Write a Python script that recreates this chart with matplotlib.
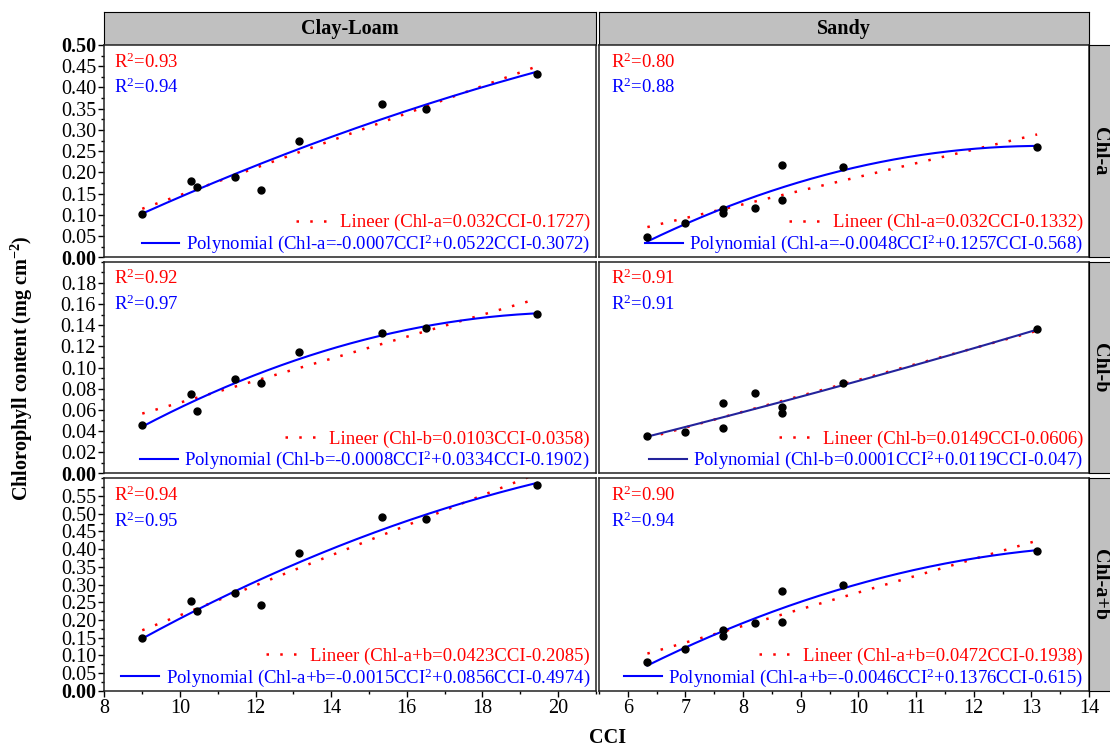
import matplotlib
matplotlib.use("Agg")
import matplotlib.pyplot as plt
import numpy as np
from matplotlib.lines import Line2D
from matplotlib.ticker import MultipleLocator

plt.rcParams['font.family'] = 'Liberation Serif'
plt.rcParams['mathtext.fontset'] = 'custom'
plt.rcParams['mathtext.rm'] = 'Liberation Serif'
plt.rcParams['mathtext.it'] = 'Liberation Serif:italic'
plt.rcParams['mathtext.bf'] = 'Liberation Serif:bold'

# soil columns and pigment rows
soils = ["Clay-Loam", "Sandy"]
pigments = ["Chl-a", "Chl-b", "Chl-a+b"]

# Clay-Loam measurements
cl_cci = [9.0, 10.3, 10.45, 11.45, 12.15, 13.15, 15.35, 16.5, 19.45]
cl_chla = [0.102, 0.179, 0.165, 0.189, 0.158, 0.275, 0.361, 0.349, 0.432]
cl_chlb = [0.046, 0.075, 0.059, 0.089, 0.085, 0.115, 0.133, 0.137, 0.151]
cl_chlab = [0.148, 0.254, 0.224, 0.277, 0.243, 0.390, 0.492, 0.485, 0.582]

# Sandy measurements
sa_cci = [6.34, 7.0, 7.66, 7.66, 8.2, 8.67, 8.67, 9.74, 13.1]
sa_chla = [0.047, 0.080, 0.113, 0.104, 0.115, 0.218, 0.135, 0.213, 0.260]
sa_chlb = [0.035, 0.039, 0.043, 0.066, 0.076, 0.063, 0.057, 0.085, 0.136]
sa_chlab = [0.081, 0.119, 0.156, 0.172, 0.190, 0.282, 0.193, 0.299, 0.395]

# R2 annotations (linear, polynomial)
r2_lin = [["0.93", "0.92", "0.94"], ["0.80", "0.91", "0.90"]]
r2_poly = [["0.94", "0.97", "0.95"], ["0.88", "0.91", "0.94"]]

lin_labels = [
    ["Lineer (Chl-a=0.032CCI-0.1727)",
     "Lineer (Chl-b=0.0103CCI-0.0358)",
     "Lineer (Chl-a+b=0.0423CCI-0.2085)"],
    ["Lineer (Chl-a=0.032CCI-0.1332)",
     "Lineer (Chl-b=0.0149CCI-0.0606)",
     "Lineer (Chl-a+b=0.0472CCI-0.1938)"],
]
poly_labels = [
    ["Polynomial (Chl-a=-0.0007CCI$^2$+0.0522CCI-0.3072)",
     "Polynomial (Chl-b=-0.0008CCI$^2$+0.0334CCI-0.1902)",
     "Polynomial (Chl-a+b=-0.0015CCI$^2$+0.0856CCI-0.4974)"],
    ["Polynomial (Chl-a=-0.0048CCI$^2$+0.1257CCI-0.568)",
     "Polynomial (Chl-b=0.0001CCI$^2$+0.0119CCI-0.047)",
     "Polynomial (Chl-a+b=-0.0046CCI$^2$+0.1376CCI-0.615)"],
]

x_data = [cl_cci, sa_cci]
y_data = [[cl_chla, cl_chlb, cl_chlab], [sa_chla, sa_chlb, sa_chlab]]

y_limits = [0.5, 0.2, 0.6]
y_ticks = [np.arange(0, 0.501, 0.05), np.arange(0, 0.181, 0.02), np.arange(0, 0.551, 0.05)]
y_minor = [0.025, 0.01, 0.025]

# figure geometry (fractions)
col_x = [(0.0941, 0.5367), (0.5396, 0.9811)]
row_y = [(0.6551, 0.9397), (0.3655, 0.6492), (0.0741, 0.3588)]
strip_top = 0.9835
x_limits = [(8, 21), (5.5, 14)]

RED = '#FF0000'
BLUE = '#0000FF'
STRIP = '#C0C0C0'

fig = plt.figure(figsize=(11.1, 7.46), dpi=100)

for c in range(2):
    x0, x1 = col_x[c]
    # column strip
    sax = fig.add_axes([x0, row_y[0][1], x1 - x0, strip_top - row_y[0][1]])
    sax.set_facecolor(STRIP)
    sax.set_xticks([])
    sax.set_yticks([])
    sax.text(0.5, 0.5, soils[c], ha='center', va='center', fontsize=14.5,
             fontweight='bold', transform=sax.transAxes)
    for r in range(3):
        y0, y1 = row_y[r]
        ax = fig.add_axes([x0, y0, x1 - x0, y1 - y0])
        xs = np.array(x_data[c])
        ys = np.array(y_data[c][r])

        # trend lines fitted from the points
        xx = np.linspace(xs.min(), xs.max(), 200)
        lin = np.polyfit(xs, ys, 1)
        quad = np.polyfit(xs, ys, 2)
        poly_col = '#23239C' if (c == 1 and r == 1) else BLUE
        ax.plot(xx, np.polyval(lin, xx), color=RED, lw=1.8, ls=(0, (1, 4.5)), zorder=2)
        ax.plot(xx, np.polyval(quad, xx), color=poly_col, lw=1.5, zorder=3)
        ax.plot(xs, ys, 'o', color='black', ms=5, zorder=4)

        ax.set_xlim(*x_limits[c])
        ax.set_ylim(0, y_limits[r])
        if c == 0:
            ax.xaxis.set_major_locator(MultipleLocator(2))
            ax.xaxis.set_minor_locator(MultipleLocator(1))
        else:
            ax.xaxis.set_major_locator(MultipleLocator(1))
            ax.xaxis.set_minor_locator(MultipleLocator(0.5))
        ax.set_yticks(y_ticks[r])
        ax.set_yticklabels([f"{t:.2f}" for t in y_ticks[r]])
        ax.yaxis.set_minor_locator(MultipleLocator(y_minor[r]))
        tlabels = ax.get_yticklabels()
        tlabels[0].set_fontweight('bold')
        if r == 0:
            tlabels[-1].set_fontweight('bold')

        ax.tick_params(which='both', direction='out', width=1, top=False, right=False)
        ax.tick_params(which='major', length=4, labelsize=14.5, pad=2)
        ax.tick_params(which='minor', length=2.5)
        if c == 1:
            ax.tick_params(which='both', left=False, labelleft=False)
        if r < 2:
            ax.tick_params(which='both', bottom=False, labelbottom=False)
        for sp in ax.spines.values():
            sp.set_linewidth(1.1)
            sp.set_color('#222222')

        dx = 0.019 if c == 0 else 0.025
        ax.text(dx, 0.92, "R$^2$=" + r2_lin[c][r], color=RED, fontsize=13.5,
                va='center', ha='left', transform=ax.transAxes)
        ax.text(dx, 0.80, "R$^2$=" + r2_poly[c][r], color=BLUE, fontsize=13.5,
                va='center', ha='left', transform=ax.transAxes)

        # two stacked one-entry legends so each row is right aligned
        h_lin = Line2D([], [], color=RED, lw=1.8, ls=(0, (1, 4.5)))
        h_poly = Line2D([], [], color=poly_col, lw=1.5)
        leg_kw = dict(loc='lower right', frameon=False, fontsize=13.5, handlelength=2.0,
                      handletextpad=0.35, borderaxespad=0, borderpad=0.1)
        leg1 = ax.legend([h_lin], [lin_labels[c][r]], bbox_to_anchor=(0.992, 0.113),
                         labelcolor=RED, **leg_kw)
        ax.add_artist(leg1)
        ax.legend([h_poly], [poly_labels[c][r]], bbox_to_anchor=(0.992, 0.0),
                  labelcolor=BLUE, **leg_kw)

        # row strip on the right
        if c == 1:
            rax = fig.add_axes([x1, y0, 0.03, y1 - y0])
            rax.set_facecolor(STRIP)
            rax.set_xticks([])
            rax.set_yticks([])
            rax.text(0.32, 0.5, pigments[r], ha='center', va='center', rotation=-90,
                     fontsize=14.5, fontweight='bold', transform=rax.transAxes)

fig.text(0.0196, 0.5067, r"Chlorophyll content (mg cm$^{\mathbf{-2}}$)", rotation=90,
         ha='center', va='center', fontsize=14.5, fontweight='bold')
fig.text(0.5477, 0.0107, "CCI", ha='center', va='center', fontsize=14.5, fontweight='bold')

fig.savefig("out.png", dpi=100)
